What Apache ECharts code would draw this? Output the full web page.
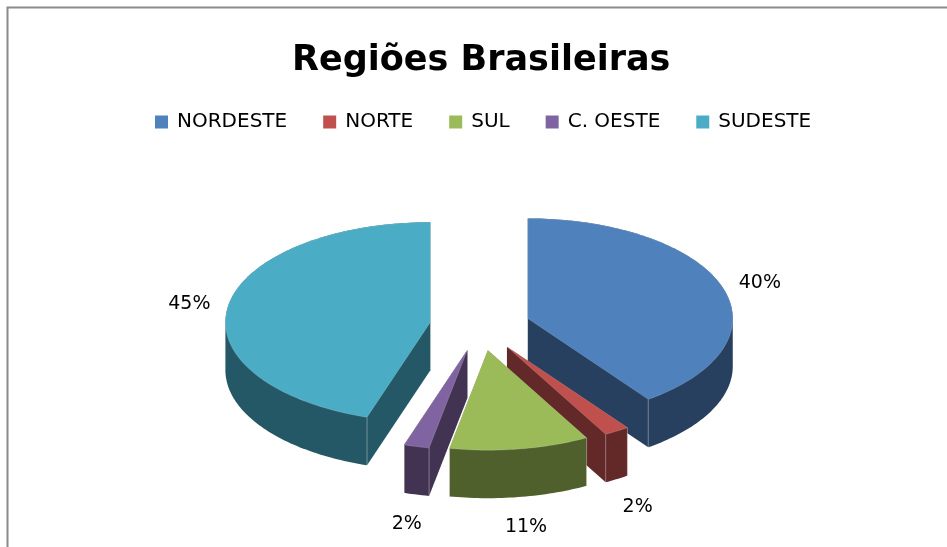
<!DOCTYPE html>
<html>
<head>
<meta charset="utf-8">
<title>Regiões Brasileiras</title>
<script src="https://cdn.jsdelivr.net/npm/echarts@6/dist/echarts.min.js"></script>
<style>
  html, body { margin: 0; padding: 0; background: #fff; }
  #chart { width: 947px; height: 547px; }
</style>
</head>
<body>
<div id="chart"></div>
<script>
// Data
const regioes = ['NORDESTE', 'NORTE', 'SUL', 'C. OESTE', 'SUDESTE'];
const percentuais = [40, 2, 11, 2, 45];

// Colours (top face / side face)
const coresTopo = ['#4F81BD', '#C0504D', '#9BBB59', '#8064A2', '#4BACC6'];
const coresLado = ['#28405F', '#632828', '#4F602C', '#423352', '#255866'];

const fonte = '"DejaVu Sans", "Liberation Sans", sans-serif';

// 3D pie look: ellipse, thickness, explode
const pizza = { cx: 480, cy: 326, rx: 205, ry: 100, altura: 48, explode: 0.245 };

const total = percentuais.reduce((a, b) => a + b, 0);
const inicios = [];
let soma = 0;
percentuais.forEach(v => { inicios.push(soma / total * Math.PI * 2); soma += v; });

function fatia(i) {
    const a0 = inicios[i];
    const a1 = a0 + percentuais[i] / total * Math.PI * 2;
    return { a0, a1, meio: (a0 + a1) / 2 };
}

// convex hull (monotone chain) - gives the silhouette of the extruded slice
function casco(pts) {
    const p = pts.slice().sort((a, b) => a[0] - b[0] || a[1] - b[1]);
    const cross = (o, a, b) => (a[0] - o[0]) * (b[1] - o[1]) - (a[1] - o[1]) * (b[0] - o[0]);
    const lower = [], upper = [];
    for (const q of p) {
        while (lower.length >= 2 && cross(lower[lower.length - 2], lower[lower.length - 1], q) <= 0) lower.pop();
        lower.push(q);
    }
    for (let k = p.length - 1; k >= 0; k--) {
        const q = p[k];
        while (upper.length >= 2 && cross(upper[upper.length - 2], upper[upper.length - 1], q) <= 0) upper.pop();
        upper.push(q);
    }
    upper.pop(); lower.pop();
    return lower.concat(upper);
}

function desenhaFatia(i) {
    const { a0, a1, meio } = fatia(i);
    const ox = pizza.cx + pizza.explode * pizza.rx * Math.sin(meio);
    const oy = pizza.cy - pizza.explode * pizza.ry * Math.cos(meio);
    const ponto = (a, dy) => [ox + pizza.rx * Math.sin(a), oy - pizza.ry * Math.cos(a) + (dy || 0)];

    const n = Math.max(2, Math.ceil((a1 - a0) / 0.02));
    const topo = [[ox, oy]];
    for (let k = 0; k <= n; k++) topo.push(ponto(a0 + (a1 - a0) * k / n));
    const fundo = topo.map(p => [p[0], p[1] + pizza.altura]);

    const filhos = [
        { type: 'polygon', shape: { points: casco(topo.concat(fundo)) }, style: { fill: coresLado[i] } }
    ];
    // light vertical edges on the front corners
    [a0, a1].forEach(a => {
        if (Math.cos(a) < 0) {
            const p = ponto(a);
            filhos.push({ type: 'line', shape: { x1: p[0], y1: p[1], x2: p[0], y2: p[1] + pizza.altura },
                          style: { stroke: 'rgba(255,255,255,0.35)', lineWidth: 1 } });
        }
    });
    filhos.push({ type: 'polygon', shape: { points: topo },
                  style: { fill: coresTopo[i], stroke: 'rgba(255,255,255,0.2)', lineWidth: 0.8 } });

    // percentage label
    const frente = Math.cos(meio) < 0;
    const lx = ox + (pizza.rx + 39) * Math.sin(meio);
    const ly = oy - (pizza.ry + 13) * Math.cos(meio) + (frente ? pizza.altura + 17 : 0);
    filhos.push({
        type: 'text', x: lx, y: ly,
        style: {
            text: Math.round(percentuais[i] / total * 100) + '%',
            fill: '#000', fontSize: 19, fontFamily: fonte,
            align: 'center', verticalAlign: 'middle'
        }
    });
    return { type: 'group', children: filhos };
}

// draw back slices first
const ordem = regioes.map((_, i) => i)
    .sort((a, b) => -Math.cos(fatia(a).meio) + Math.cos(fatia(b).meio));

const chart = echarts.init(document.getElementById('chart'));

const option = {
    backgroundColor: '#fff',
    animation: false,
    title: {
        text: 'Regiões Brasileiras',
        left: 287,
        top: 38,
        textStyle: { fontFamily: fonte, fontSize: 35, fontWeight: 'bold', color: '#000' }
    },
    legend: {
        data: regioes,
        left: 150,
        top: 107,
        icon: 'rect',
        itemWidth: 13,
        itemHeight: 13,
        itemGap: 36,
        textStyle: { fontFamily: fonte, fontSize: 20, color: '#000', padding: [0, 0, 0, 4] }
    },
    graphic: [{
        type: 'rect', silent: true,
        shape: { x: 7.5, y: 7.5, width: 1000, height: 600 },
        style: { fill: null, stroke: '#8a8a8a', lineWidth: 2 }
    }],
    series: regioes.map((nome, i) => ({
        type: 'custom',
        name: nome,
        coordinateSystem: 'none',
        z: 2 + ordem.indexOf(i),
        itemStyle: { color: coresTopo[i] },
        data: [{ name: nome, value: percentuais[i] }],
        renderItem: () => desenhaFatia(i)
    }))
};

chart.setOption(option);
</script>
</body>
</html>
